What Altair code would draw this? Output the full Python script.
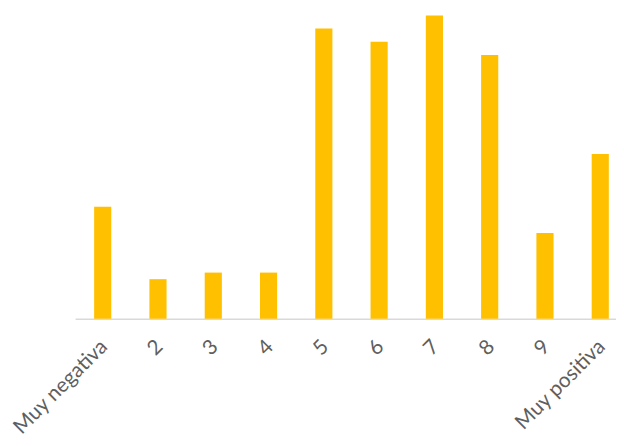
import altair as alt
import pandas as pd

categories = ["Muy negativa", "2", "3", "4", "5", "6", "7", "8", "9", "Muy positiva"]
values = [17, 6, 7, 7, 44, 42, 46, 40, 13, 25]

df = pd.DataFrame({"cat": categories, "val": values})

chart = alt.Chart(df).mark_bar(color="#FFC000").encode(
    x=alt.X(
        "cat:N",
        sort=categories,
        title=None,
        scale=alt.Scale(paddingInner=0.69, paddingOuter=0.344, range=[0, 560]),
        axis=alt.Axis(
            labelAngle=-45,
            labelAlign="right",
            labelBaseline="top",
            labelFont="Lato",
            labelFontSize=21,
            labelColor="#5f5f5f",
            labelPadding=17,
            labelOffset=-6,
            ticks=False,
            domainColor="#D9D9D9",
            domainWidth=1.5,
            labelOverlap=False,
        ),
    ),
    y=alt.Y("val:Q", title=None, scale=alt.Scale(domain=[0, 46.7], nice=False), axis=None),
).properties(
    width=548,
    height=312,
    autosize=alt.AutoSizeParams(type="none"),
    padding={"left": 68, "top": 0, "right": 0, "bottom": 118},
).configure_view(stroke=None)

chart.save("out.html", embed_options={"renderer": "svg", "actions": False})
